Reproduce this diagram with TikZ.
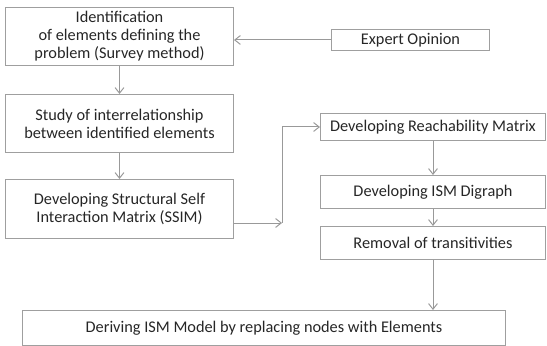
\documentclass[tikz,border=0pt]{standalone}
\usepackage{fontspec}
\setmainfont{Carlito}
\usetikzlibrary{arrows.meta,positioning,calc}
\usepackage{xcolor}

\begin{document}
\begin{tikzpicture}[x=0.025cm, y=-0.025cm, >={Straight Barb[length=1.4mm,width=2.2mm]},
    font=\fontsize{11.6}{12.9}\selectfont,
    stepbox/.style={draw=gray!75, line width=0.7pt, text=black!85, align=center,
      inner sep=0pt, anchor=north west},
    flow/.style={->, draw=gray!80, line width=0.7pt}]
  %% page frame
  \useasboundingbox (0,0) rectangle (547,346);
  %% Left column — survey and SSIM steps
  \node[stepbox, minimum width=228*0.025cm, minimum height=58*0.025cm] (ident) at (5,7)
    {Identification\\ of elements defining the\\ problem (Survey method)};
  \node[stepbox, minimum width=158*0.025cm, minimum height=21*0.025cm] (expert) at (331,29)
    {Expert Opinion};
  \node[stepbox, minimum width=228*0.025cm, minimum height=58*0.025cm] (study) at (5,94)
    {Study of interrelationship\\ between identified elements};
  \node[stepbox, minimum width=228*0.025cm, minimum height=59*0.025cm] (ssim) at (5,179)
    {Developing Structural Self\\ Interaction Matrix (SSIM)};
  %% Right column — matrix and digraph steps
  \node[stepbox, minimum width=225*0.025cm, minimum height=27*0.025cm] (reach) at (320,113)
    {Developing Reachability Matrix};
  \node[stepbox, minimum width=225*0.025cm, minimum height=33*0.025cm] (digraph) at (320,175)
    {Developing ISM Digraph};
  \node[stepbox, minimum width=225*0.025cm, minimum height=33*0.025cm] (removal) at (320,226)
    {Removal of transitivities};
  %% Final model
  \node[stepbox, minimum width=483*0.025cm, minimum height=35*0.025cm] (model) at (22,310)
    {Deriving ISM Model by replacing nodes with Elements};
  %% Connectors
  \coordinate (bend) at (282,223);
  \draw[flow] (expert.west) -- (expert.west -| ident.east);
  \draw[flow] (ident) -- (study);
  \draw[flow] (study) -- (ssim);
  \draw[flow] (bend -| ssim.east) -- (bend);
  \draw[flow] (bend) |- (reach.west);
  \draw[flow] (reach) -- (digraph);
  \draw[flow] (digraph) -- (removal);
  \draw[flow] (removal.south) -- (removal.south |- model.north);
\end{tikzpicture}
\end{document}
